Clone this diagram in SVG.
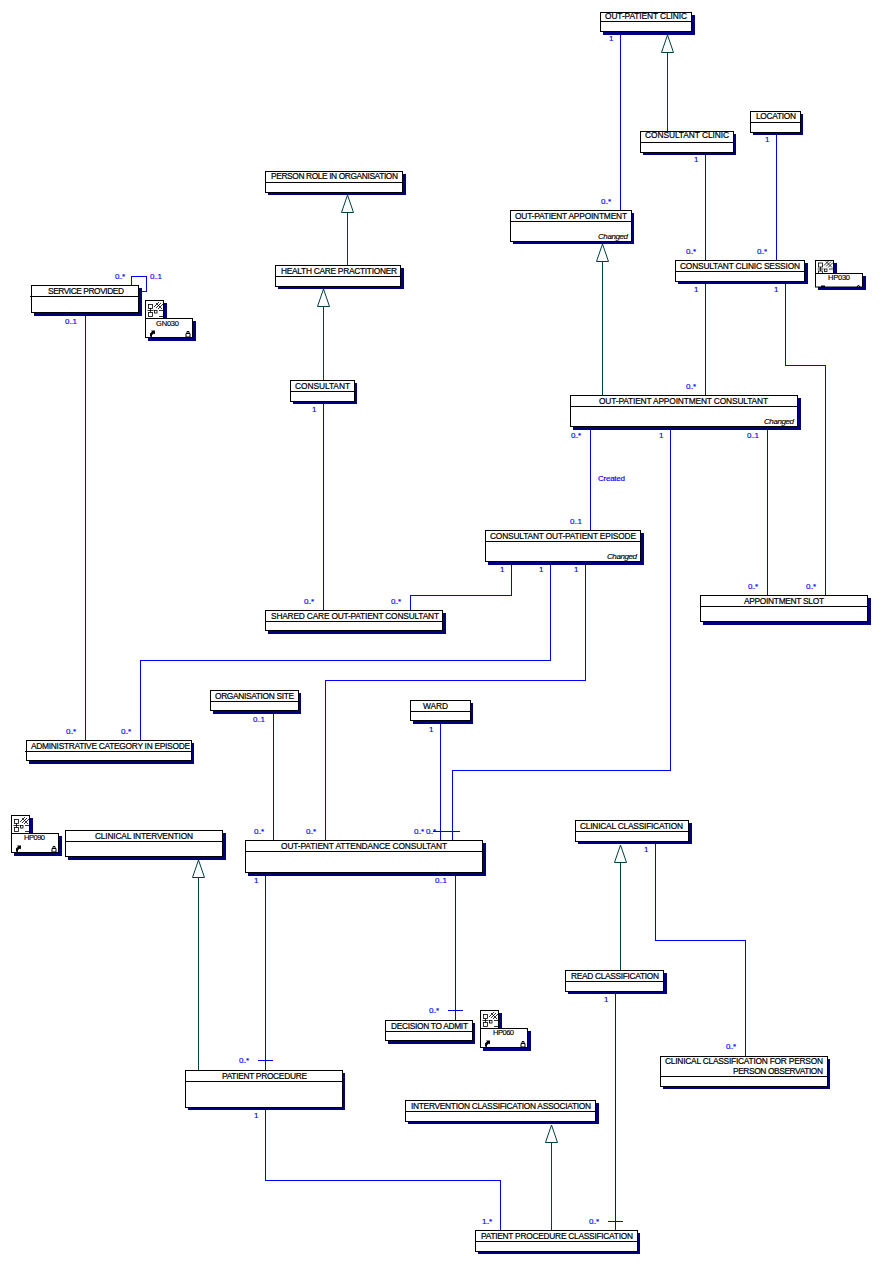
<svg xmlns="http://www.w3.org/2000/svg" xmlns:xlink="http://www.w3.org/1999/xlink" width="881" height="1265" viewBox="0 0 881 1265">
<style>
.s{fill:#000080}
.b{fill:#fff;stroke:#000;stroke-width:1}
.h{stroke:#000;stroke-width:1}
text{font-family:"Liberation Sans",Arial,sans-serif}
.t{font-size:8.4px;fill:#000;stroke:#000;stroke-width:.2}
.p{font-size:7.5px;fill:#000;stroke:#000;stroke-width:.15}
.c{font-size:8px;fill:#000;font-style:italic;stroke:#000;stroke-width:.15}
.m{font-size:8px;fill:#0000ff;stroke:#0000ff;stroke-width:.15}
.a{fill:none;stroke:#0000ff;stroke-width:1}
.g{fill:none;stroke:#004040;stroke-width:1}
.tri{fill:#fff;stroke:#004040;stroke-width:1}
.i{fill:#fff;stroke:#000;stroke-width:.8}
.k{fill:none;stroke:#000;stroke-width:.8}
</style>
<defs>
<g id="glyph">
<rect class="i" x="3.5" y="4.5" width="4" height="4"/>
<rect class="i" x="3.5" y="12.5" width="4" height="4"/>
<rect class="i" x="9.5" y="10.5" width="2.5" height="2.5"/>
<path class="k" d="M5.5 8.5V12.5M2.5 10.5H8.500M14 10.500H18M14 16.500H18M9 7L14 2M11 8L16 3M13 9L18 4M11 3L17 9"/>
</g>
<g id="pkg">
<rect class="s" x="3" y="3" width="19" height="20"/>
<rect class="s" x="3" y="21" width="48" height="20"/>
<rect class="b" x=".5" y=".5" width="18" height="19"/>
<use xlink:href="#glyph" href="#glyph"/>
<rect class="b" x=".5" y="18.500" width="47" height="19"/>
<path d="M5 36.500L5 33.500L7 31.500L6 30.500L10 30.500L10 34.500L9 33.500L7 35V37Z" fill="#000"/>
<path d="M41 37V33.500H45V37ZM42 33.500V31.500H44V33.500" fill="none" stroke="#000" stroke-width="1"/>
</g>
<g id="pkg-short">
<rect class="s" x="3" y="3" width="19" height="15"/>
<rect class="s" x="3" y="16" width="48" height="14"/>
<rect class="b" x=".5" y=".5" width="18" height="14"/>
<use xlink:href="#glyph" href="#glyph" transform="translate(0,-1.500)"/>
<rect class="b" x=".5" y="13.500" width="47" height="13.500"/>
<path d="M6 27V25.500H10V27Z" fill="#000"/>
<path d="M42 27L43.500 25L45 27" fill="none" stroke="#000" stroke-width="1"/>
</g>
</defs>
<rect width="881" height="1265" fill="#fff"/>

<g id="connectors" shape-rendering="crispEdges">
<path class="a" d="M620.500 32V210"/>
<path class="a" d="M705.500 153V260"/>
<path class="a" d="M776.500 133V260"/>
<path class="a" d="M705.500 282V395"/>
<path class="a" d="M785.500 282V365.500H825.500V595"/>
<path class="a" d="M590.500 427V530"/>
<path class="a" d="M670.500 427V770.500H452.500V840"/>
<path class="a" d="M767.500 427V595"/>
<path class="a" d="M511.500 562V595.500H410.500V610"/>
<path class="a" d="M550.500 562V660.500H140.500V740"/>
<path class="a" d="M585.500 562V680.500H325.500V840"/>
<path class="a" d="M323.500 403V610"/>
<path class="a" d="M85.500 313V740"/>
<path class="a" d="M273.500 711V840"/>
<path class="a" d="M440.500 721V840"/>
<path class="a" d="M433 831.500H460"/>
<path class="a" d="M265.500 873V1071"/>
<path class="a" d="M258 1060.500H273"/>
<path class="a" d="M455.500 873V1020"/>
<path class="a" d="M448 1010.500H463"/>
<path class="a" d="M265.500 1107V1180.500H500.500V1230"/>
<path class="a" d="M615.500 992V1230"/>
<path class="a" d="M608 1221.500H623"/>
<path class="a" d="M655.500 842V940.500H745.500V1056"/>
<path class="a" d="M131.500 285V276.500H146.500V291.500H139"/>
<path class="g" d="M667.500 131V53"/>
<path class="g" d="M602.500 395V262"/>
<path class="g" d="M347.500 265V212"/>
<path class="g" d="M323.500 381V307"/>
<path class="g" d="M198.500 1071V878"/>
<path class="g" d="M620.500 971V862"/>
<path class="g" d="M551.500 1230V1142"/>
</g>
<g id="arrowheads">
<path class="tri" d="M667.500 35L661.500 52.500H673.500Z"/>
<path class="tri" d="M602.500 244L596.500 261.500H608.500Z"/>
<path class="tri" d="M347.500 195L341.500 212.500H353.500Z"/>
<path class="tri" d="M323.500 289L317.500 306.500H329.500Z"/>
<path class="tri" d="M198.500 860L192.500 877.500H204.500Z"/>
<path class="tri" d="M620.500 845L614.500 862.500H626.500Z"/>
<path class="tri" d="M551.500 1125L545.500 1142.500H557.500Z"/>
</g>

<g id="labels">
<text class="m" x="609" y="41">1</text>
<text class="m" x="601" y="204" textLength="10">0..*</text>
<text class="m" x="694" y="162">1</text>
<text class="m" x="765" y="142">1</text>
<text class="m" x="686" y="254" textLength="10">0..*</text>
<text class="m" x="757" y="254" textLength="10">0..*</text>
<text class="m" x="694" y="292">1</text>
<text class="m" x="774" y="292">1</text>
<text class="m" x="686" y="389" textLength="10">0..*</text>
<text class="m" x="571" y="438" textLength="10">0..*</text>
<text class="m" x="659" y="438">1</text>
<text class="m" x="747" y="438" textLength="12">0..1</text>
<text class="m" x="598" y="481" textLength="27">Created</text>
<text class="m" x="570" y="524" textLength="12">0..1</text>
<text class="m" x="500" y="572">1</text>
<text class="m" x="539" y="572">1</text>
<text class="m" x="574" y="572">1</text>
<text class="m" x="748" y="589" textLength="10">0..*</text>
<text class="m" x="806" y="589" textLength="10">0..*</text>
<text class="m" x="304" y="604" textLength="10">0..*</text>
<text class="m" x="391" y="604" textLength="10">0..*</text>
<text class="m" x="66" y="734" textLength="10">0..*</text>
<text class="m" x="121" y="734" textLength="10">0..*</text>
<text class="m" x="253" y="722" textLength="12">0..1</text>
<text class="m" x="429" y="732">1</text>
<text class="m" x="254" y="834" textLength="10">0..*</text>
<text class="m" x="306" y="834" textLength="10">0..*</text>
<text class="m" x="414" y="834" textLength="10">0..*</text>
<text class="m" x="426" y="834" textLength="10">0..*</text>
<text class="m" x="115" y="279" textLength="10">0..*</text>
<text class="m" x="150" y="279" textLength="12">0..1</text>
<text class="m" x="65" y="324" textLength="12">0..1</text>
<text class="m" x="312" y="412">1</text>
<text class="m" x="254" y="883">1</text>
<text class="m" x="435" y="883" textLength="12">0..1</text>
<text class="m" x="429" y="1013" textLength="10">0..*</text>
<text class="m" x="482" y="1224" textLength="10">1..*</text>
<text class="m" x="589" y="1224" textLength="10">0..*</text>
<text class="m" x="239" y="1063" textLength="10">0..*</text>
<text class="m" x="254" y="1118">1</text>
<text class="m" x="644" y="852">1</text>
<text class="m" x="604" y="1002">1</text>
<text class="m" x="726" y="1049" textLength="10">0..*</text>
</g>

<g id="out-patient-clinic" shape-rendering="crispEdges"><rect class="s" x="603" y="15" width="92" height="20"/><rect class="b" x="600.500" y="12.500" width="91" height="19"/><path class="h" d="M600 21.500H692"/><text class="t" x="605" y="19" textLength="82">OUT-PATIENT CLINIC</text></g>
<g id="consultant-clinic" shape-rendering="crispEdges"><rect class="s" x="643" y="134" width="93" height="21"/><rect class="b" x="640.500" y="131.500" width="93" height="21"/><path class="h" d="M640 142.500H734"/><text class="t" x="645" y="138" textLength="84">CONSULTANT CLINIC</text></g>
<g id="location" shape-rendering="crispEdges"><rect class="s" x="753" y="114" width="50" height="21"/><rect class="b" x="750.500" y="111.500" width="50" height="21"/><path class="h" d="M750 122.500H801"/><text class="t" x="756" y="119" textLength="40">LOCATION</text></g>
<g id="out-patient-appointment" shape-rendering="crispEdges"><rect class="s" x="513" y="213" width="121" height="31"/><rect class="b" x="510.500" y="210.500" width="121" height="31"/><path class="h" d="M510 221.500H632"/><text class="t" x="515" y="219" textLength="112">OUT-PATIENT APPOINTMENT</text><text class="c" x="598" y="239" textLength="30">Changed</text></g>
<g id="consultant-clinic-session" shape-rendering="crispEdges"><rect class="s" x="678" y="263" width="130" height="21"/><rect class="b" x="675.500" y="260.500" width="129" height="21"/><path class="h" d="M675 271.500H805"/><text class="t" x="680" y="269" textLength="120">CONSULTANT CLINIC SESSION</text></g>
<g id="pkg-hp030"><use xlink:href="#pkg-short" href="#pkg-short" x="815" y="260"/><text class="p" x="828" y="280" textLength="22">HP030</text></g>
<g id="person-role" shape-rendering="crispEdges"><rect class="s" x="268" y="174" width="138" height="21"/><rect class="b" x="265.500" y="171.500" width="137" height="21"/><path class="h" d="M265 182.500H403"/><text class="t" x="271" y="179" textLength="127">PERSON ROLE IN ORGANISATION</text></g>
<g id="health-care-practitioner" shape-rendering="crispEdges"><rect class="s" x="278" y="268" width="126" height="21"/><rect class="b" x="275.500" y="265.500" width="125" height="21"/><path class="h" d="M275 276.500H401"/><text class="t" x="281" y="274" textLength="116">HEALTH CARE PRACTITIONER</text></g>
<g id="consultant" shape-rendering="crispEdges"><rect class="s" x="293" y="383" width="64" height="21"/><rect class="b" x="290.500" y="380.500" width="64" height="21"/><path class="h" d="M290 391.500H355"/><text class="t" x="295" y="389" textLength="55">CONSULTANT</text></g>
<g id="service-provided" shape-rendering="crispEdges"><rect class="s" x="34" y="288" width="108" height="28"/><rect class="b" x="31.500" y="285.500" width="107" height="27"/><path class="h" d="M30 296.500H139"/><text class="t" x="48" y="294" textLength="76">SERVICE PROVIDED</text></g>
<g id="pkg-gn030"><use xlink:href="#pkg" href="#pkg" x="145" y="300"/><text class="p" x="156" y="326" textLength="23">GN030</text></g>
<g id="out-patient-appointment-consultant" shape-rendering="crispEdges"><rect class="s" x="573" y="398" width="228" height="32"/><rect class="b" x="570.500" y="395.500" width="227" height="31"/><path class="h" d="M570 406.500H798"/><text class="t" x="599" y="404" textLength="169">OUT-PATIENT APPOINTMENT CONSULTANT</text><text class="c" x="764" y="424" textLength="30">Changed</text></g>
<g id="consultant-out-patient-episode" shape-rendering="crispEdges"><rect class="s" x="488" y="533" width="156" height="32"/><rect class="b" x="485.500" y="530.500" width="155" height="31"/><path class="h" d="M485 541.500H641"/><text class="t" x="490" y="539" textLength="146">CONSULTANT OUT-PATIENT EPISODE</text><text class="c" x="607" y="559" textLength="30">Changed</text></g>
<g id="appointment-slot" shape-rendering="crispEdges"><rect class="s" x="703" y="598" width="168" height="27"/><rect class="b" x="700.500" y="595.500" width="167" height="26"/><path class="h" d="M700 606.500H868"/><text class="t" x="744" y="604" textLength="80">APPOINTMENT SLOT</text></g>
<g id="shared-care" shape-rendering="crispEdges"><rect class="s" x="268" y="613" width="178" height="21"/><rect class="b" x="265.500" y="610.500" width="177" height="20"/><path class="h" d="M265 621.500H443"/><text class="t" x="271" y="619" textLength="168">SHARED CARE OUT-PATIENT CONSULTANT</text></g>
<g id="administrative-category" shape-rendering="crispEdges"><rect class="s" x="29" y="743" width="165" height="21"/><rect class="b" x="26.500" y="740.500" width="165" height="20"/><path class="h" d="M25 751.500H192"/><text class="t" x="31" y="749" textLength="159">ADMINISTRATIVE CATEGORY IN EPISODE</text></g>
<g id="organisation-site" shape-rendering="crispEdges"><rect class="s" x="213" y="693" width="88" height="21"/><rect class="b" x="210.500" y="690.500" width="88" height="20"/><path class="h" d="M210 701.500H299"/><text class="t" x="215" y="699" textLength="79">ORGANISATION SITE</text></g>
<g id="ward" shape-rendering="crispEdges"><rect class="s" x="413" y="703" width="60" height="21"/><rect class="b" x="410.500" y="700.500" width="60" height="20"/><path class="h" d="M410 711.500H471"/><text class="t" x="423" y="709" textLength="25">WARD</text></g>
<g id="pkg-hp090"><use xlink:href="#pkg" href="#pkg" x="11" y="815"/><text class="p" x="24" y="840" textLength="21">HP090</text></g>
<g id="clinical-intervention" shape-rendering="crispEdges"><rect class="s" x="68" y="833" width="158" height="27"/><rect class="b" x="65.500" y="830.500" width="157" height="26"/><path class="h" d="M65 841.500H223"/><text class="t" x="95" y="839" textLength="98">CLINICAL INTERVENTION</text></g>
<g id="out-patient-attendance-consultant" shape-rendering="crispEdges"><rect class="s" x="248" y="843" width="238" height="33"/><rect class="b" x="245.500" y="840.500" width="237" height="32"/><path class="h" d="M245 851.500H483"/><text class="t" x="281" y="849" textLength="166">OUT-PATIENT ATTENDANCE CONSULTANT</text></g>
<g id="clinical-classification" shape-rendering="crispEdges"><rect class="s" x="578" y="823" width="114" height="21"/><rect class="b" x="575.500" y="820.500" width="113" height="21"/><path class="h" d="M575 831.500H689"/><text class="t" x="580" y="829" textLength="103">CLINICAL CLASSIFICATION</text></g>
<g id="read-classification" shape-rendering="crispEdges"><rect class="s" x="568" y="973" width="99" height="21"/><rect class="b" x="565.500" y="970.500" width="98" height="21"/><path class="h" d="M565 981.500H664"/><text class="t" x="571" y="979" textLength="88">READ CLASSIFICATION</text></g>
<g id="clinical-classification-for-person" shape-rendering="crispEdges"><rect class="s" x="663" y="1059" width="167" height="30"/><rect class="b" x="660.500" y="1056.500" width="167" height="29.500"/><path class="h" d="M660 1076.500H828"/><text class="t" x="665" y="1064" textLength="158">CLINICAL CLASSIFICATION FOR PERSON</text><text class="t" x="733" y="1074" textLength="90">PERSON OBSERVATION</text></g>
<g id="decision-to-admit" shape-rendering="crispEdges"><rect class="s" x="388" y="1023" width="87" height="21"/><rect class="b" x="385.500" y="1020.500" width="87" height="20"/><path class="h" d="M385 1031.500H473"/><text class="t" x="391" y="1029" textLength="77">DECISION TO ADMIT</text></g>
<g id="pkg-hp060"><use xlink:href="#pkg" href="#pkg" x="480" y="1010"/><text class="p" x="493" y="1035" textLength="21">HP060</text></g>
<g id="patient-procedure" shape-rendering="crispEdges"><rect class="s" x="188" y="1073" width="157" height="37"/><rect class="b" x="185.500" y="1070.500" width="157" height="36.500"/><path class="h" d="M185 1081.500H343"/><text class="t" x="222" y="1079" textLength="85">PATIENT PROCEDURE</text></g>
<g id="intervention-classification-association" shape-rendering="crispEdges"><rect class="s" x="408" y="1103" width="191" height="21"/><rect class="b" x="405.500" y="1100.500" width="190" height="21"/><path class="h" d="M405 1111.500H596"/><text class="t" x="411" y="1109" textLength="180">INTERVENTION CLASSIFICATION ASSOCIATION</text></g>
<g id="patient-procedure-classification" shape-rendering="crispEdges"><rect class="s" x="478" y="1233" width="162" height="21"/><rect class="b" x="475.500" y="1230.500" width="162" height="21"/><path class="h" d="M475 1241.500H638"/><text class="t" x="481" y="1239" textLength="152">PATIENT PROCEDURE CLASSIFICATION</text></g>
</svg>
